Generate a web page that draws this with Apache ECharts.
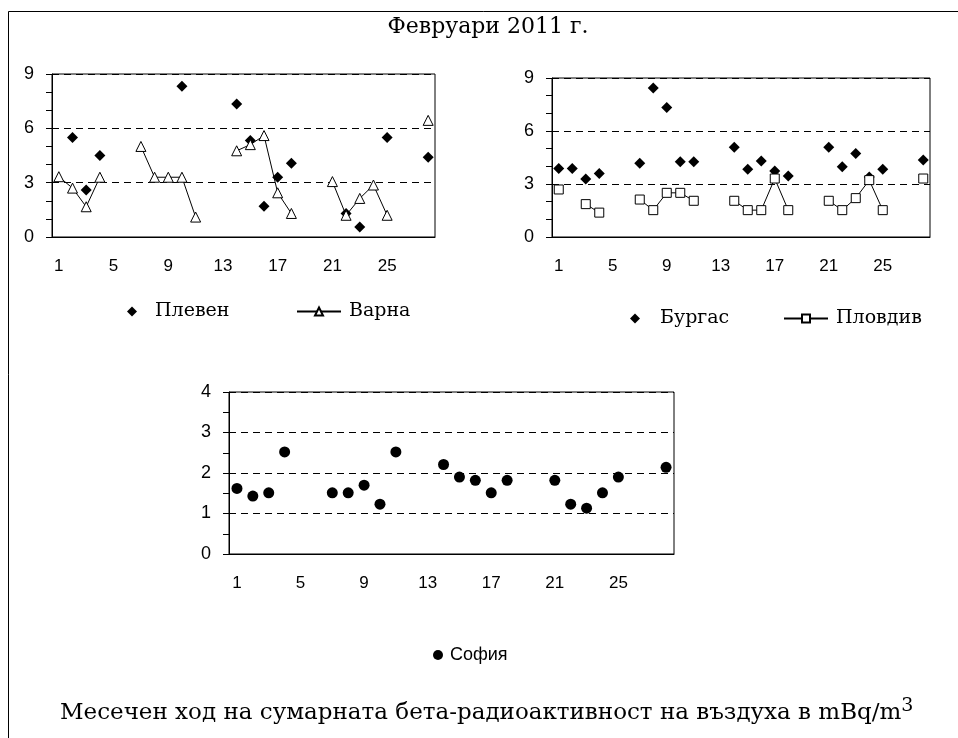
<!DOCTYPE html>
<html>
<head>
<meta charset="utf-8">
<script src="https://cdn.jsdelivr.net/npm/echarts@6/dist/echarts.min.js"></script>
<style>
html,body{margin:0;padding:0;background:#fff}
#chart{width:958px;height:738px}
</style>
</head>
<body>
<div id="chart"></div>
<script>
// days of February 2011
const days=["1","2","3","4","5","6","7","8","9","10","11","12","13","14",
    "15","16","17","18","19","20","21","22","23","24","25","26","27","28"];

const pleven=[null,5.5,2.6,4.5,null,null,null,null,null,8.33,null,null,null,7.35,
    5.33,1.7,3.3,4.07,null,null,null,1.3,0.55,null,5.5,null,null,4.4];
const varna=[3.33,2.7,1.67,3.3,null,null,5.0,3.3,3.3,3.3,1.1,null,null,4.76,
    5.1,5.6,2.44,1.3,null,null,3.06,1.2,2.13,2.87,1.2,null,null,6.44];
const burgas=[3.88,3.88,3.28,3.6,null,null,4.17,8.43,7.33,4.26,4.26,null,null,5.08,
    3.83,4.3,3.73,3.45,null,null,5.08,3.98,4.73,3.4,3.83,null,null,4.36];
const plovdiv=[2.69,null,1.86,1.38,null,null,2.12,1.52,2.5,2.5,2.05,null,null,2.05,
    1.52,1.52,3.31,1.52,null,null,2.05,1.52,2.2,3.22,1.52,null,null,3.31];
const sofia=[1.62,1.43,1.51,2.52,null,null,1.51,1.51,1.7,1.23,2.52,null,null,2.21,
    1.9,1.82,1.51,1.82,null,null,1.82,1.23,1.13,1.51,1.9,null,null,2.14];

const SANS="Liberation Sans";
const SERIF="DejaVu Serif";

function xAxis(grid){
    return {
        type:"category",
        gridIndex:grid,
        data:days,
        boundaryGap:true,
        axisLine:{lineStyle:{color:"#000",width:1}},
        axisTick:{interval:0,length:6,lineStyle:{color:"#000"}},
        axisLabel:{interval:3,color:"#000",fontFamily:SANS,fontSize:17,margin:21},
        splitLine:{show:false}
    };
}

function yAxis(grid,max,step,minor){
    return {
        type:"value",
        gridIndex:grid,
        min:0,
        max:max,
        interval:step,
        axisLine:{show:true,lineStyle:{color:"#000",width:1}},
        axisTick:{show:true,length:6,lineStyle:{color:"#000"}},
        minorTick:{show:true,splitNumber:minor,length:6,lineStyle:{color:"#000"}},
        axisLabel:{color:"#000",fontFamily:SANS,fontSize:18,margin:18},
        splitLine:{show:true,lineStyle:{color:"#000",width:1,type:[7,5]}}
    };
}

function gaps(arr){
    return arr.map(v=>v===null?"-":v);
}

function legend(name,left,top,width,pad,font){
    return {
        data:[name],
        left:left,
        top:top,
        itemWidth:width,
        itemHeight:10,
        textStyle:{
            fontFamily:font||SERIF,
            fontSize:font?18:19,
            color:"#000",
            padding:[0,0,0,pad]
        }
    };
}

const dot={color:"#000",opacity:1};
const hollow={color:"#fff",borderColor:"#000",borderWidth:1,opacity:1};

const chart=echarts.init(document.getElementById("chart"));

chart.setOption({
    backgroundColor:"#fff",
    animation:false,
    grid:[
        {left:52,top:74,width:383,height:163,show:true,borderColor:"#000",borderWidth:1},
        {left:552,top:78,width:378,height:159,show:true,borderColor:"#000",borderWidth:1},
        {left:229,top:392,width:445,height:162,show:true,borderColor:"#000",borderWidth:1}
    ],
    xAxis:[xAxis(0),xAxis(1),xAxis(2)],
    yAxis:[yAxis(0,9,3,3),yAxis(1,9,3,3),yAxis(2,4,1,2)],
    legend:[
        legend("Плевен",122,297,10,13),
        legend("Варна",291,297,44,3),
        legend("Бургас",625,304,10,15),
        legend("Пловдив",778,304,44,3),
        legend("София",428,641,10,2,SANS)
    ],
    series:[
        {
            name:"Плевен",type:"scatter",xAxisIndex:0,yAxisIndex:0,
            symbol:"diamond",symbolSize:11,itemStyle:dot,
            data:gaps(pleven)
        },
        {
            name:"Варна",type:"line",xAxisIndex:0,yAxisIndex:0,
            symbol:"triangle",symbolSize:10,showAllSymbol:true,connectNulls:false,
            itemStyle:hollow,lineStyle:{color:"#000",width:1},
            data:gaps(varna)
        },
        {
            name:"Бургас",type:"scatter",xAxisIndex:1,yAxisIndex:1,
            symbol:"diamond",symbolSize:11,itemStyle:dot,
            data:gaps(burgas)
        },
        {
            name:"Пловдив",type:"line",xAxisIndex:1,yAxisIndex:1,
            symbol:"rect",symbolSize:9,showAllSymbol:true,connectNulls:false,
            itemStyle:hollow,lineStyle:{color:"#000",width:1},
            data:gaps(plovdiv)
        },
        {
            name:"София",type:"scatter",xAxisIndex:2,yAxisIndex:2,
            symbol:"circle",symbolSize:11,itemStyle:dot,
            data:gaps(sofia)
        }
    ],
    graphic:[
        {
            type:"polyline",
            shape:{points:[[8.5,738],[8.5,11.5],[958,11.5]]},
            style:{stroke:"#000",lineWidth:1,fill:null}
        },
        {
            type:"text",
            x:488,y:27,
            style:{
                text:"Февруари 2011 г.",
                font:"22px 'DejaVu Serif'",
                fill:"#000",
                align:"center",
                verticalAlign:"middle"
            }
        },
        {
            type:"text",
            x:60,y:711,
            style:{
                text:"{a|Месечен ход на сумарната бета-радиоактивност на въздуха в mBq/m}{s|3}",
                fill:"#000",
                verticalAlign:"middle",
                rich:{
                    a:{fontFamily:SERIF,fontSize:23,lineHeight:28,verticalAlign:"bottom",fill:"#000"},
                    s:{fontFamily:SERIF,fontSize:19,lineHeight:17,verticalAlign:"top",fill:"#000"}
                }
            }
        }
    ]
});
</script>
</body>
</html>
